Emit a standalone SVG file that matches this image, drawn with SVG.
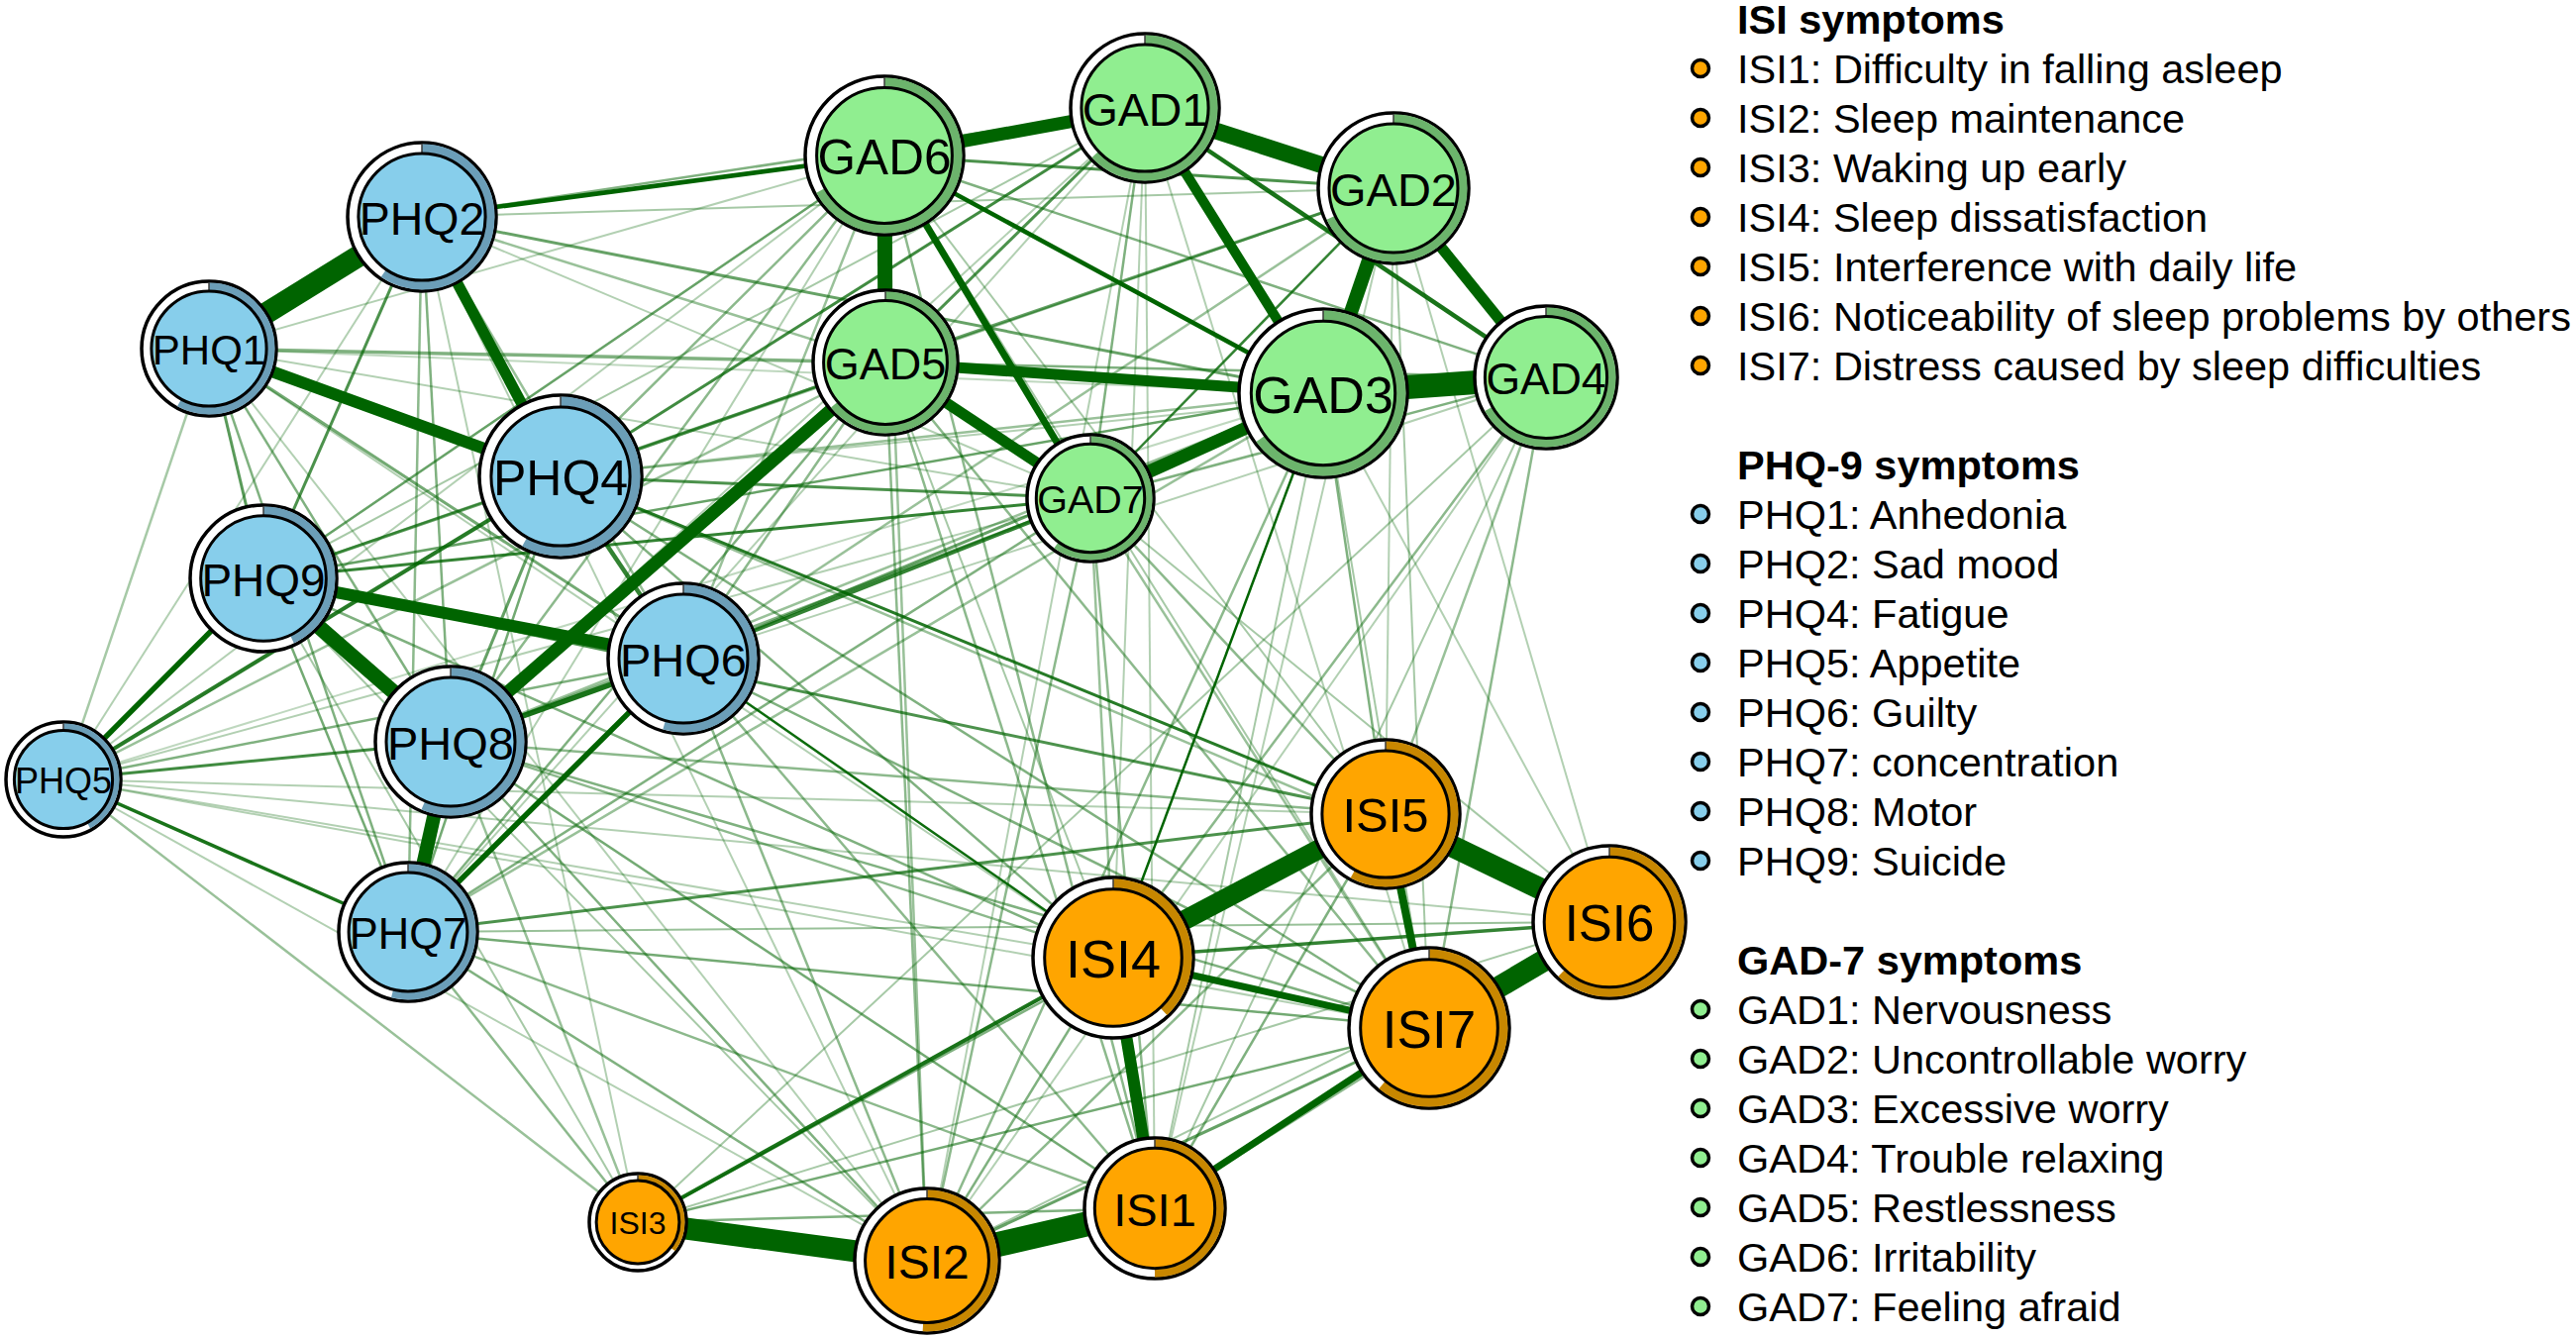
<svg xmlns="http://www.w3.org/2000/svg" width="2601" height="1352" viewBox="0 0 2601 1352">
<style>
  .bg{fill:#ffffff}
  #edges line{stroke:#006400;stroke-linecap:butt}
  .outer{fill:#ffffff;stroke:#000000;stroke-width:3.5}
  .pie{fill:none}
  .phq .pie{stroke:#6B9EB8}
  .gad .pie{stroke:#6CB46C}
  .isi .pie{stroke:#C88700}
  .inner{stroke:#000000;stroke-width:3}
  .phq .inner{fill:#87CEEB}
  .gad .inner{fill:#90EE90}
  .isi .inner{fill:#FFA500}
  .tick{stroke:#3a3a3a;stroke-width:1.5}
  .lbl{font-family:"Liberation Sans",Arial,sans-serif;text-anchor:middle;fill:#000000}
  .leg{font-family:"Liberation Sans",Arial,sans-serif;font-size:41.5px;fill:#000000}
  .hdr{font-weight:bold}
  .bul{stroke:#000000;stroke-width:3.5}
</style>
<rect class="bg" x="0" y="0" width="2601" height="1352"/>
<g id="edges">
  <line x1="426" y1="219" x2="64" y2="787" stroke-width="2" stroke-opacity="0.3"/>
  <line x1="211" y1="352" x2="893" y2="157" stroke-width="2" stroke-opacity="0.3"/>
  <line x1="211" y1="352" x2="1101" y2="503" stroke-width="2" stroke-opacity="0.3"/>
  <line x1="211" y1="352" x2="1336" y2="397" stroke-width="2" stroke-opacity="0.25"/>
  <line x1="566" y1="481" x2="1561" y2="381" stroke-width="2" stroke-opacity="0.3"/>
  <line x1="266" y1="584" x2="1156" y2="109" stroke-width="2" stroke-opacity="0.35"/>
  <line x1="690" y1="665" x2="1561" y2="381" stroke-width="2" stroke-opacity="0.3"/>
  <line x1="455" y1="749" x2="1156" y2="109" stroke-width="2" stroke-opacity="0.3"/>
  <line x1="412" y1="941" x2="893" y2="157" stroke-width="2" stroke-opacity="0.3"/>
  <line x1="412" y1="941" x2="1156" y2="109" stroke-width="2" stroke-opacity="0.3"/>
  <line x1="64" y1="787" x2="1101" y2="503" stroke-width="2" stroke-opacity="0.3"/>
  <line x1="64" y1="787" x2="893" y2="157" stroke-width="2" stroke-opacity="0.3"/>
  <line x1="64" y1="787" x2="1336" y2="397" stroke-width="2" stroke-opacity="0.25"/>
  <line x1="211" y1="352" x2="1124" y2="967" stroke-width="2" stroke-opacity="0.3"/>
  <line x1="266" y1="584" x2="936" y2="1273" stroke-width="2" stroke-opacity="0.35"/>
  <line x1="412" y1="941" x2="1625" y2="931" stroke-width="2" stroke-opacity="0.4"/>
  <line x1="64" y1="787" x2="936" y2="1273" stroke-width="2" stroke-opacity="0.3"/>
  <line x1="64" y1="787" x2="1124" y2="967" stroke-width="2" stroke-opacity="0.3"/>
  <line x1="64" y1="787" x2="1399" y2="822" stroke-width="2" stroke-opacity="0.3"/>
  <line x1="64" y1="787" x2="1625" y2="931" stroke-width="2" stroke-opacity="0.3"/>
  <line x1="64" y1="787" x2="1443" y2="1038" stroke-width="2" stroke-opacity="0.3"/>
  <line x1="266" y1="584" x2="644" y2="1234" stroke-width="2" stroke-opacity="0.35"/>
  <line x1="426" y1="219" x2="644" y2="1234" stroke-width="2" stroke-opacity="0.3"/>
  <line x1="426" y1="219" x2="936" y2="1273" stroke-width="2" stroke-opacity="0.3"/>
  <line x1="211" y1="352" x2="936" y2="1273" stroke-width="2" stroke-opacity="0.3"/>
  <line x1="1336" y1="397" x2="1443" y2="1038" stroke-width="2" stroke-opacity="0.35"/>
  <line x1="1336" y1="397" x2="1166" y2="1220" stroke-width="2" stroke-opacity="0.35"/>
  <line x1="1336" y1="397" x2="1625" y2="931" stroke-width="2" stroke-opacity="0.3"/>
  <line x1="1561" y1="381" x2="1166" y2="1220" stroke-width="2" stroke-opacity="0.35"/>
  <line x1="1561" y1="381" x2="936" y2="1273" stroke-width="2" stroke-opacity="0.3"/>
  <line x1="1561" y1="381" x2="644" y2="1234" stroke-width="2" stroke-opacity="0.35"/>
  <line x1="1407" y1="190" x2="1625" y2="931" stroke-width="2" stroke-opacity="0.3"/>
  <line x1="1407" y1="190" x2="1443" y2="1038" stroke-width="2" stroke-opacity="0.35"/>
  <line x1="1407" y1="190" x2="1166" y2="1220" stroke-width="2" stroke-opacity="0.3"/>
  <line x1="1407" y1="190" x2="1399" y2="822" stroke-width="2" stroke-opacity="0.3"/>
  <line x1="1101" y1="503" x2="1625" y2="931" stroke-width="2" stroke-opacity="0.35"/>
  <line x1="894" y1="366" x2="1124" y2="967" stroke-width="2" stroke-opacity="0.35"/>
  <line x1="893" y1="157" x2="1399" y2="822" stroke-width="2" stroke-opacity="0.35"/>
  <line x1="893" y1="157" x2="1443" y2="1038" stroke-width="2" stroke-opacity="0.35"/>
  <line x1="1156" y1="109" x2="1443" y2="1038" stroke-width="2" stroke-opacity="0.3"/>
  <line x1="1156" y1="109" x2="1166" y2="1220" stroke-width="2" stroke-opacity="0.3"/>
  <line x1="1156" y1="109" x2="1124" y2="967" stroke-width="2" stroke-opacity="0.3"/>
  <line x1="1156" y1="109" x2="936" y2="1273" stroke-width="2" stroke-opacity="0.3"/>
  <line x1="936" y1="1273" x2="1625" y2="931" stroke-width="2" stroke-opacity="0.35"/>
  <line x1="644" y1="1234" x2="1625" y2="931" stroke-width="2" stroke-opacity="0.35"/>
  <line x1="426" y1="219" x2="1407" y2="190" stroke-width="2" stroke-opacity="0.35"/>
  <line x1="426" y1="219" x2="1101" y2="503" stroke-width="2" stroke-opacity="0.3"/>
  <line x1="211" y1="352" x2="64" y2="787" stroke-width="2.5" stroke-opacity="0.35"/>
  <line x1="426" y1="219" x2="894" y2="366" stroke-width="2.5" stroke-opacity="0.4"/>
  <line x1="211" y1="352" x2="412" y2="941" stroke-width="2.5" stroke-opacity="0.5"/>
  <line x1="211" y1="352" x2="455" y2="749" stroke-width="2.5" stroke-opacity="0.5"/>
  <line x1="426" y1="219" x2="690" y2="665" stroke-width="2.5" stroke-opacity="0.4"/>
  <line x1="426" y1="219" x2="412" y2="941" stroke-width="2.5" stroke-opacity="0.45"/>
  <line x1="426" y1="219" x2="455" y2="749" stroke-width="2.5" stroke-opacity="0.5"/>
  <line x1="64" y1="787" x2="690" y2="665" stroke-width="2.5" stroke-opacity="0.5"/>
  <line x1="412" y1="941" x2="266" y2="584" stroke-width="2.5" stroke-opacity="0.55"/>
  <line x1="566" y1="481" x2="412" y2="941" stroke-width="2.5" stroke-opacity="0.55"/>
  <line x1="1156" y1="109" x2="1101" y2="503" stroke-width="2.5" stroke-opacity="0.5"/>
  <line x1="1561" y1="381" x2="894" y2="366" stroke-width="2.5" stroke-opacity="0.5"/>
  <line x1="1561" y1="381" x2="893" y2="157" stroke-width="2.5" stroke-opacity="0.5"/>
  <line x1="1561" y1="381" x2="1101" y2="503" stroke-width="2.5" stroke-opacity="0.5"/>
  <line x1="1407" y1="190" x2="894" y2="366" stroke-width="3" stroke-opacity="0.6"/>
  <line x1="1166" y1="1220" x2="644" y2="1234" stroke-width="2.5" stroke-opacity="0.5"/>
  <line x1="1166" y1="1220" x2="1399" y2="822" stroke-width="2.5" stroke-opacity="0.5"/>
  <line x1="1166" y1="1220" x2="1625" y2="931" stroke-width="2.5" stroke-opacity="0.45"/>
  <line x1="936" y1="1273" x2="1124" y2="967" stroke-width="2.5" stroke-opacity="0.5"/>
  <line x1="936" y1="1273" x2="1399" y2="822" stroke-width="2.5" stroke-opacity="0.45"/>
  <line x1="644" y1="1234" x2="1399" y2="822" stroke-width="2.5" stroke-opacity="0.5"/>
  <line x1="644" y1="1234" x2="1443" y2="1038" stroke-width="2.5" stroke-opacity="0.55"/>
  <line x1="936" y1="1273" x2="1443" y2="1038" stroke-width="3" stroke-opacity="0.6"/>
  <line x1="426" y1="219" x2="1156" y2="109" stroke-width="2.5" stroke-opacity="0.5"/>
  <line x1="426" y1="219" x2="1336" y2="397" stroke-width="3" stroke-opacity="0.6"/>
  <line x1="566" y1="481" x2="894" y2="366" stroke-width="3" stroke-opacity="0.55"/>
  <line x1="566" y1="481" x2="1407" y2="190" stroke-width="2.5" stroke-opacity="0.4"/>
  <line x1="566" y1="481" x2="1336" y2="397" stroke-width="2.5" stroke-opacity="0.4"/>
  <line x1="566" y1="481" x2="893" y2="157" stroke-width="2.5" stroke-opacity="0.45"/>
  <line x1="266" y1="584" x2="893" y2="157" stroke-width="2.5" stroke-opacity="0.6"/>
  <line x1="266" y1="584" x2="894" y2="366" stroke-width="2.5" stroke-opacity="0.5"/>
  <line x1="266" y1="584" x2="1336" y2="397" stroke-width="2.5" stroke-opacity="0.6"/>
  <line x1="690" y1="665" x2="1336" y2="397" stroke-width="3" stroke-opacity="0.6"/>
  <line x1="690" y1="665" x2="894" y2="366" stroke-width="2.5" stroke-opacity="0.45"/>
  <line x1="690" y1="665" x2="893" y2="157" stroke-width="2.5" stroke-opacity="0.4"/>
  <line x1="690" y1="665" x2="1407" y2="190" stroke-width="2.5" stroke-opacity="0.4"/>
  <line x1="455" y1="749" x2="1101" y2="503" stroke-width="2.5" stroke-opacity="0.5"/>
  <line x1="455" y1="749" x2="1336" y2="397" stroke-width="2.5" stroke-opacity="0.4"/>
  <line x1="455" y1="749" x2="893" y2="157" stroke-width="2.5" stroke-opacity="0.45"/>
  <line x1="412" y1="941" x2="894" y2="366" stroke-width="2.5" stroke-opacity="0.5"/>
  <line x1="412" y1="941" x2="1101" y2="503" stroke-width="2.5" stroke-opacity="0.5"/>
  <line x1="412" y1="941" x2="1336" y2="397" stroke-width="2.5" stroke-opacity="0.4"/>
  <line x1="64" y1="787" x2="894" y2="366" stroke-width="2.5" stroke-opacity="0.4"/>
  <line x1="211" y1="352" x2="894" y2="366" stroke-width="3.5" stroke-opacity="0.5"/>
  <line x1="566" y1="481" x2="1443" y2="1038" stroke-width="2.5" stroke-opacity="0.5"/>
  <line x1="566" y1="481" x2="1124" y2="967" stroke-width="2.5" stroke-opacity="0.5"/>
  <line x1="566" y1="481" x2="1625" y2="931" stroke-width="2.5" stroke-opacity="0.4"/>
  <line x1="690" y1="665" x2="1443" y2="1038" stroke-width="2.5" stroke-opacity="0.5"/>
  <line x1="690" y1="665" x2="1166" y2="1220" stroke-width="2.5" stroke-opacity="0.45"/>
  <line x1="690" y1="665" x2="936" y2="1273" stroke-width="2.5" stroke-opacity="0.45"/>
  <line x1="266" y1="584" x2="1124" y2="967" stroke-width="2.5" stroke-opacity="0.5"/>
  <line x1="455" y1="749" x2="1443" y2="1038" stroke-width="2.5" stroke-opacity="0.5"/>
  <line x1="455" y1="749" x2="1166" y2="1220" stroke-width="2.5" stroke-opacity="0.55"/>
  <line x1="455" y1="749" x2="936" y2="1273" stroke-width="2.5" stroke-opacity="0.5"/>
  <line x1="455" y1="749" x2="1124" y2="967" stroke-width="2.5" stroke-opacity="0.45"/>
  <line x1="455" y1="749" x2="1399" y2="822" stroke-width="2.5" stroke-opacity="0.45"/>
  <line x1="455" y1="749" x2="644" y2="1234" stroke-width="2.5" stroke-opacity="0.4"/>
  <line x1="412" y1="941" x2="1443" y2="1038" stroke-width="2.5" stroke-opacity="0.55"/>
  <line x1="412" y1="941" x2="936" y2="1273" stroke-width="2.5" stroke-opacity="0.5"/>
  <line x1="412" y1="941" x2="1166" y2="1220" stroke-width="2.5" stroke-opacity="0.45"/>
  <line x1="412" y1="941" x2="644" y2="1234" stroke-width="2.5" stroke-opacity="0.45"/>
  <line x1="64" y1="787" x2="644" y2="1234" stroke-width="2.5" stroke-opacity="0.4"/>
  <line x1="1336" y1="397" x2="1399" y2="822" stroke-width="2.5" stroke-opacity="0.5"/>
  <line x1="1336" y1="397" x2="936" y2="1273" stroke-width="2.5" stroke-opacity="0.45"/>
  <line x1="1561" y1="381" x2="1124" y2="967" stroke-width="2.5" stroke-opacity="0.45"/>
  <line x1="1561" y1="381" x2="1443" y2="1038" stroke-width="2.5" stroke-opacity="0.45"/>
  <line x1="1561" y1="381" x2="1399" y2="822" stroke-width="2.5" stroke-opacity="0.4"/>
  <line x1="1101" y1="503" x2="1124" y2="967" stroke-width="2.5" stroke-opacity="0.4"/>
  <line x1="1101" y1="503" x2="1399" y2="822" stroke-width="2.5" stroke-opacity="0.45"/>
  <line x1="1101" y1="503" x2="936" y2="1273" stroke-width="2.5" stroke-opacity="0.45"/>
  <line x1="1101" y1="503" x2="1166" y2="1220" stroke-width="2.5" stroke-opacity="0.45"/>
  <line x1="1101" y1="503" x2="1443" y2="1038" stroke-width="2.5" stroke-opacity="0.4"/>
  <line x1="894" y1="366" x2="1443" y2="1038" stroke-width="2.5" stroke-opacity="0.45"/>
  <line x1="894" y1="366" x2="1166" y2="1220" stroke-width="2.5" stroke-opacity="0.45"/>
  <line x1="894" y1="366" x2="936" y2="1273" stroke-width="2.5" stroke-opacity="0.45"/>
  <line x1="893" y1="157" x2="936" y2="1273" stroke-width="2.5" stroke-opacity="0.4"/>
  <line x1="893" y1="157" x2="1166" y2="1220" stroke-width="2.5" stroke-opacity="0.45"/>
  <line x1="211" y1="352" x2="266" y2="584" stroke-width="3" stroke-opacity="0.65"/>
  <line x1="426" y1="219" x2="266" y2="584" stroke-width="3" stroke-opacity="0.7"/>
  <line x1="566" y1="481" x2="455" y2="749" stroke-width="3" stroke-opacity="0.6"/>
  <line x1="566" y1="481" x2="266" y2="584" stroke-width="3" stroke-opacity="0.6"/>
  <line x1="211" y1="352" x2="690" y2="665" stroke-width="3" stroke-opacity="0.55"/>
  <line x1="64" y1="787" x2="455" y2="749" stroke-width="3" stroke-opacity="0.75"/>
  <line x1="64" y1="787" x2="412" y2="941" stroke-width="3.5" stroke-opacity="0.9"/>
  <line x1="64" y1="787" x2="566" y2="481" stroke-width="4" stroke-opacity="0.85"/>
  <line x1="566" y1="481" x2="690" y2="665" stroke-width="4.5" stroke-opacity="0.8"/>
  <line x1="690" y1="665" x2="455" y2="749" stroke-width="5.5" stroke-opacity="0.9"/>
  <line x1="690" y1="665" x2="412" y2="941" stroke-width="5.5" stroke-opacity="1"/>
  <line x1="64" y1="787" x2="266" y2="584" stroke-width="5.5" stroke-opacity="1"/>
  <line x1="1156" y1="109" x2="894" y2="366" stroke-width="3" stroke-opacity="0.7"/>
  <line x1="1407" y1="190" x2="893" y2="157" stroke-width="3" stroke-opacity="0.7"/>
  <line x1="1407" y1="190" x2="1101" y2="503" stroke-width="2.5" stroke-opacity="0.8"/>
  <line x1="1156" y1="109" x2="1561" y2="381" stroke-width="4.5" stroke-opacity="0.9"/>
  <line x1="644" y1="1234" x2="1124" y2="967" stroke-width="4" stroke-opacity="0.9"/>
  <line x1="1124" y1="967" x2="1625" y2="931" stroke-width="3.5" stroke-opacity="0.8"/>
  <line x1="426" y1="219" x2="893" y2="157" stroke-width="4.5" stroke-opacity="1"/>
  <line x1="566" y1="481" x2="1156" y2="109" stroke-width="3" stroke-opacity="0.75"/>
  <line x1="566" y1="481" x2="1101" y2="503" stroke-width="3" stroke-opacity="0.7"/>
  <line x1="266" y1="584" x2="1101" y2="503" stroke-width="3" stroke-opacity="0.8"/>
  <line x1="690" y1="665" x2="1101" y2="503" stroke-width="4" stroke-opacity="0.8"/>
  <line x1="566" y1="481" x2="1399" y2="822" stroke-width="3" stroke-opacity="0.85"/>
  <line x1="266" y1="584" x2="1399" y2="822" stroke-width="3" stroke-opacity="0.7"/>
  <line x1="690" y1="665" x2="1124" y2="967" stroke-width="2.5" stroke-opacity="0.95"/>
  <line x1="412" y1="941" x2="1399" y2="822" stroke-width="3" stroke-opacity="0.7"/>
  <line x1="1336" y1="397" x2="1124" y2="967" stroke-width="2.5" stroke-opacity="1"/>
  <line x1="893" y1="157" x2="1336" y2="397" stroke-width="4.5" stroke-opacity="1"/>
  <line x1="893" y1="157" x2="1101" y2="503" stroke-width="7" stroke-opacity="1"/>
  <line x1="1399" y1="822" x2="1443" y2="1038" stroke-width="8" stroke-opacity="1"/>
  <line x1="1124" y1="967" x2="1443" y2="1038" stroke-width="7" stroke-opacity="1"/>
  <line x1="1166" y1="1220" x2="1443" y2="1038" stroke-width="7" stroke-opacity="1"/>
  <line x1="1156" y1="109" x2="1336" y2="397" stroke-width="10" stroke-opacity="1"/>
  <line x1="426" y1="219" x2="566" y2="481" stroke-width="11" stroke-opacity="1"/>
  <line x1="1407" y1="190" x2="1561" y2="381" stroke-width="11" stroke-opacity="1"/>
  <line x1="894" y1="366" x2="1336" y2="397" stroke-width="11" stroke-opacity="1"/>
  <line x1="894" y1="366" x2="1101" y2="503" stroke-width="11" stroke-opacity="1"/>
  <line x1="211" y1="352" x2="566" y2="481" stroke-width="12" stroke-opacity="1"/>
  <line x1="266" y1="584" x2="690" y2="665" stroke-width="12" stroke-opacity="1"/>
  <line x1="1166" y1="1220" x2="1124" y2="967" stroke-width="12" stroke-opacity="1"/>
  <line x1="455" y1="749" x2="894" y2="366" stroke-width="13" stroke-opacity="1"/>
  <line x1="1156" y1="109" x2="893" y2="157" stroke-width="13" stroke-opacity="1"/>
  <line x1="1101" y1="503" x2="1336" y2="397" stroke-width="13" stroke-opacity="1"/>
  <line x1="1407" y1="190" x2="1336" y2="397" stroke-width="14" stroke-opacity="1"/>
  <line x1="266" y1="584" x2="455" y2="749" stroke-width="15" stroke-opacity="1"/>
  <line x1="412" y1="941" x2="455" y2="749" stroke-width="14" stroke-opacity="1"/>
  <line x1="894" y1="366" x2="893" y2="157" stroke-width="15" stroke-opacity="1"/>
  <line x1="1156" y1="109" x2="1407" y2="190" stroke-width="17" stroke-opacity="1"/>
  <line x1="1124" y1="967" x2="1399" y2="822" stroke-width="20" stroke-opacity="1"/>
  <line x1="211" y1="352" x2="426" y2="219" stroke-width="22" stroke-opacity="1"/>
  <line x1="1399" y1="822" x2="1625" y2="931" stroke-width="22" stroke-opacity="1"/>
  <line x1="1625" y1="931" x2="1443" y2="1038" stroke-width="22" stroke-opacity="1"/>
  <line x1="1336" y1="397" x2="1561" y2="381" stroke-width="24" stroke-opacity="1"/>
  <line x1="644" y1="1234" x2="936" y2="1273" stroke-width="22" stroke-opacity="1"/>
  <line x1="936" y1="1273" x2="1166" y2="1220" stroke-width="25" stroke-opacity="1"/>
</g>
<g id="nodes">
  <g id="PHQ1" class="phq" transform="translate(211,352)"><circle class="outer" r="68"/><circle class="pie" r="62.3" stroke-width="8.4" pathLength="100" stroke-dasharray="58 100" transform="rotate(-90)"/><line class="tick" x1="0" y1="-58" x2="0" y2="-67"/><circle class="inner" r="58.1"/><text class="lbl" y="16" font-size="42">PHQ1</text></g>
  <g id="PHQ2" class="phq" transform="translate(426,219)"><circle class="outer" r="75"/><circle class="pie" r="68.8" stroke-width="9.4" pathLength="100" stroke-dasharray="59.5 100" transform="rotate(-90)"/><line class="tick" x1="0" y1="-64" x2="0" y2="-74"/><circle class="inner" r="64.1"/><text class="lbl" y="18" font-size="46.5">PHQ2</text></g>
  <g id="PHQ4" class="phq" transform="translate(566,481)"><circle class="outer" r="82"/><circle class="pie" r="75.3" stroke-width="10.4" pathLength="100" stroke-dasharray="58 100" transform="rotate(-90)"/><line class="tick" x1="0" y1="-70" x2="0" y2="-81"/><circle class="inner" r="70.1"/><text class="lbl" y="19" font-size="50">PHQ4</text></g>
  <g id="PHQ5" class="phq" transform="translate(64,787)"><circle class="outer" r="58"/><circle class="pie" r="53.05" stroke-width="6.9" pathLength="100" stroke-dasharray="42 100" transform="rotate(-90)"/><line class="tick" x1="0" y1="-49" x2="0" y2="-57"/><circle class="inner" r="49.6"/><text class="lbl" y="14" font-size="36">PHQ5</text></g>
  <g id="PHQ6" class="phq" transform="translate(690,665)"><circle class="outer" r="76"/><circle class="pie" r="69.75" stroke-width="9.5" pathLength="100" stroke-dasharray="54.5 100" transform="rotate(-90)"/><line class="tick" x1="0" y1="-65" x2="0" y2="-75"/><circle class="inner" r="65"/><text class="lbl" y="18" font-size="47">PHQ6</text></g>
  <g id="PHQ7" class="phq" transform="translate(412,941)"><circle class="outer" r="70"/><circle class="pie" r="64.2" stroke-width="8.6" pathLength="100" stroke-dasharray="54 100" transform="rotate(-90)"/><line class="tick" x1="0" y1="-60" x2="0" y2="-69"/><circle class="inner" r="59.9"/><text class="lbl" y="17" font-size="43.5">PHQ7</text></g>
  <g id="PHQ8" class="phq" transform="translate(455,749)"><circle class="outer" r="76"/><circle class="pie" r="69.75" stroke-width="9.5" pathLength="100" stroke-dasharray="56.5 100" transform="rotate(-90)"/><line class="tick" x1="0" y1="-65" x2="0" y2="-75"/><circle class="inner" r="65"/><text class="lbl" y="18" font-size="47">PHQ8</text></g>
  <g id="PHQ9" class="phq" transform="translate(266,584)"><circle class="outer" r="74"/><circle class="pie" r="67.9" stroke-width="9.2" pathLength="100" stroke-dasharray="43 100" transform="rotate(-90)"/><line class="tick" x1="0" y1="-63" x2="0" y2="-73"/><circle class="inner" r="63.3"/><text class="lbl" y="18" font-size="46">PHQ9</text></g>
  <g id="GAD1" class="gad" transform="translate(1156,109)"><circle class="outer" r="75"/><circle class="pie" r="68.8" stroke-width="9.4" pathLength="100" stroke-dasharray="63 100" transform="rotate(-90)"/><line class="tick" x1="0" y1="-64" x2="0" y2="-74"/><circle class="inner" r="64.1"/><text class="lbl" y="18" font-size="46.5">GAD1</text></g>
  <g id="GAD2" class="gad" transform="translate(1407,190)"><circle class="outer" r="76"/><circle class="pie" r="69.75" stroke-width="9.5" pathLength="100" stroke-dasharray="68 100" transform="rotate(-90)"/><line class="tick" x1="0" y1="-65" x2="0" y2="-75"/><circle class="inner" r="65"/><text class="lbl" y="18" font-size="47">GAD2</text></g>
  <g id="GAD3" class="gad" transform="translate(1336,397)"><circle class="outer" r="85"/><circle class="pie" r="78.1" stroke-width="10.8" pathLength="100" stroke-dasharray="65 100" transform="rotate(-90)"/><line class="tick" x1="0" y1="-73" x2="0" y2="-84"/><circle class="inner" r="72.7"/><text class="lbl" y="20" font-size="52">GAD3</text></g>
  <g id="GAD4" class="gad" transform="translate(1561,381)"><circle class="outer" r="72"/><circle class="pie" r="66.05" stroke-width="8.9" pathLength="100" stroke-dasharray="67 100" transform="rotate(-90)"/><line class="tick" x1="0" y1="-62" x2="0" y2="-71"/><circle class="inner" r="61.6"/><text class="lbl" y="17" font-size="44.5">GAD4</text></g>
  <g id="GAD5" class="gad" transform="translate(894,366)"><circle class="outer" r="73"/><circle class="pie" r="66.95" stroke-width="9.1" pathLength="100" stroke-dasharray="64 100" transform="rotate(-90)"/><line class="tick" x1="0" y1="-62" x2="0" y2="-72"/><circle class="inner" r="62.4"/><text class="lbl" y="17" font-size="45">GAD5</text></g>
  <g id="GAD6" class="gad" transform="translate(893,157)"><circle class="outer" r="80"/><circle class="pie" r="73.45" stroke-width="10.1" pathLength="100" stroke-dasharray="67 100" transform="rotate(-90)"/><line class="tick" x1="0" y1="-68" x2="0" y2="-79"/><circle class="inner" r="68.4"/><text class="lbl" y="19" font-size="49.5">GAD6</text></g>
  <g id="GAD7" class="gad" transform="translate(1101,503)"><circle class="outer" r="64"/><circle class="pie" r="58.6" stroke-width="7.8" pathLength="100" stroke-dasharray="60 100" transform="rotate(-90)"/><line class="tick" x1="0" y1="-55" x2="0" y2="-63"/><circle class="inner" r="54.7"/><text class="lbl" y="15" font-size="39.5">GAD7</text></g>
  <g id="ISI1" class="isi" transform="translate(1166,1220)"><circle class="outer" r="71"/><circle class="pie" r="65.1" stroke-width="8.8" pathLength="100" stroke-dasharray="50 100" transform="rotate(-90)"/><line class="tick" x1="0" y1="-61" x2="0" y2="-70"/><circle class="inner" r="60.7"/><text class="lbl" y="18" font-size="47">ISI1</text></g>
  <g id="ISI2" class="isi" transform="translate(936,1273)"><circle class="outer" r="73"/><circle class="pie" r="66.95" stroke-width="9.1" pathLength="100" stroke-dasharray="51 100" transform="rotate(-90)"/><line class="tick" x1="0" y1="-62" x2="0" y2="-72"/><circle class="inner" r="62.4"/><text class="lbl" y="18" font-size="48">ISI2</text></g>
  <g id="ISI3" class="isi" transform="translate(644,1234)"><circle class="outer" r="49"/><circle class="pie" r="44.7" stroke-width="5.6" pathLength="100" stroke-dasharray="35.5 100" transform="rotate(-90)"/><line class="tick" x1="0" y1="-42" x2="0" y2="-48"/><circle class="inner" r="41.9"/><text class="lbl" y="12" font-size="32">ISI3</text></g>
  <g id="ISI4" class="isi" transform="translate(1124,967)"><circle class="outer" r="81"/><circle class="pie" r="74.4" stroke-width="10.2" pathLength="100" stroke-dasharray="38 100" transform="rotate(-90)"/><line class="tick" x1="0" y1="-69" x2="0" y2="-80"/><circle class="inner" r="69.3"/><text class="lbl" y="20" font-size="54">ISI4</text></g>
  <g id="ISI5" class="isi" transform="translate(1399,822)"><circle class="outer" r="75"/><circle class="pie" r="68.8" stroke-width="9.4" pathLength="100" stroke-dasharray="58 100" transform="rotate(-90)"/><line class="tick" x1="0" y1="-64" x2="0" y2="-74"/><circle class="inner" r="64.1"/><text class="lbl" y="18" font-size="49">ISI5</text></g>
  <g id="ISI6" class="isi" transform="translate(1625,931)"><circle class="outer" r="77"/><circle class="pie" r="70.65" stroke-width="9.7" pathLength="100" stroke-dasharray="62 100" transform="rotate(-90)"/><line class="tick" x1="0" y1="-66" x2="0" y2="-76"/><circle class="inner" r="65.8"/><text class="lbl" y="19" font-size="51">ISI6</text></g>
  <g id="ISI7" class="isi" transform="translate(1443,1038)"><circle class="outer" r="81"/><circle class="pie" r="74.4" stroke-width="10.2" pathLength="100" stroke-dasharray="61 100" transform="rotate(-90)"/><line class="tick" x1="0" y1="-69" x2="0" y2="-80"/><circle class="inner" r="69.3"/><text class="lbl" y="20" font-size="53">ISI7</text></g>
</g>
<g id="legend">
  <text class="leg hdr" x="1754" y="34">ISI symptoms</text>
  <circle class="bul" cx="1717" cy="69" r="8.5" fill="#FFA500"/><text class="leg" x="1754" y="84">ISI1: Difficulty in falling asleep</text>
  <circle class="bul" cx="1717" cy="119" r="8.5" fill="#FFA500"/><text class="leg" x="1754" y="134">ISI2: Sleep maintenance</text>
  <circle class="bul" cx="1717" cy="169" r="8.5" fill="#FFA500"/><text class="leg" x="1754" y="184">ISI3: Waking up early</text>
  <circle class="bul" cx="1717" cy="219" r="8.5" fill="#FFA500"/><text class="leg" x="1754" y="234">ISI4: Sleep dissatisfaction</text>
  <circle class="bul" cx="1717" cy="269" r="8.5" fill="#FFA500"/><text class="leg" x="1754" y="284">ISI5: Interference with daily life</text>
  <circle class="bul" cx="1717" cy="319" r="8.5" fill="#FFA500"/><text class="leg" x="1754" y="334">ISI6: Noticeability of sleep problems by others</text>
  <circle class="bul" cx="1717" cy="369" r="8.5" fill="#FFA500"/><text class="leg" x="1754" y="384">ISI7: Distress caused by sleep difficulties</text>
  <text class="leg hdr" x="1754" y="484">PHQ-9 symptoms</text>
  <circle class="bul" cx="1717" cy="519" r="8.5" fill="#87CEEB"/><text class="leg" x="1754" y="534">PHQ1: Anhedonia</text>
  <circle class="bul" cx="1717" cy="569" r="8.5" fill="#87CEEB"/><text class="leg" x="1754" y="584">PHQ2: Sad mood</text>
  <circle class="bul" cx="1717" cy="619" r="8.5" fill="#87CEEB"/><text class="leg" x="1754" y="634">PHQ4: Fatigue</text>
  <circle class="bul" cx="1717" cy="669" r="8.5" fill="#87CEEB"/><text class="leg" x="1754" y="684">PHQ5: Appetite</text>
  <circle class="bul" cx="1717" cy="719" r="8.5" fill="#87CEEB"/><text class="leg" x="1754" y="734">PHQ6: Guilty</text>
  <circle class="bul" cx="1717" cy="769" r="8.5" fill="#87CEEB"/><text class="leg" x="1754" y="784">PHQ7: concentration</text>
  <circle class="bul" cx="1717" cy="819" r="8.5" fill="#87CEEB"/><text class="leg" x="1754" y="834">PHQ8: Motor</text>
  <circle class="bul" cx="1717" cy="869" r="8.5" fill="#87CEEB"/><text class="leg" x="1754" y="884">PHQ9: Suicide</text>
  <text class="leg hdr" x="1754" y="984">GAD-7 symptoms</text>
  <circle class="bul" cx="1717" cy="1019" r="8.5" fill="#90EE90"/><text class="leg" x="1754" y="1034">GAD1: Nervousness</text>
  <circle class="bul" cx="1717" cy="1069" r="8.5" fill="#90EE90"/><text class="leg" x="1754" y="1084">GAD2: Uncontrollable worry</text>
  <circle class="bul" cx="1717" cy="1119" r="8.5" fill="#90EE90"/><text class="leg" x="1754" y="1134">GAD3: Excessive worry</text>
  <circle class="bul" cx="1717" cy="1169" r="8.5" fill="#90EE90"/><text class="leg" x="1754" y="1184">GAD4: Trouble relaxing</text>
  <circle class="bul" cx="1717" cy="1219" r="8.5" fill="#90EE90"/><text class="leg" x="1754" y="1234">GAD5: Restlessness</text>
  <circle class="bul" cx="1717" cy="1269" r="8.5" fill="#90EE90"/><text class="leg" x="1754" y="1284">GAD6: Irritability</text>
  <circle class="bul" cx="1717" cy="1319" r="8.5" fill="#90EE90"/><text class="leg" x="1754" y="1334">GAD7: Feeling afraid</text>
</g>
</svg>
